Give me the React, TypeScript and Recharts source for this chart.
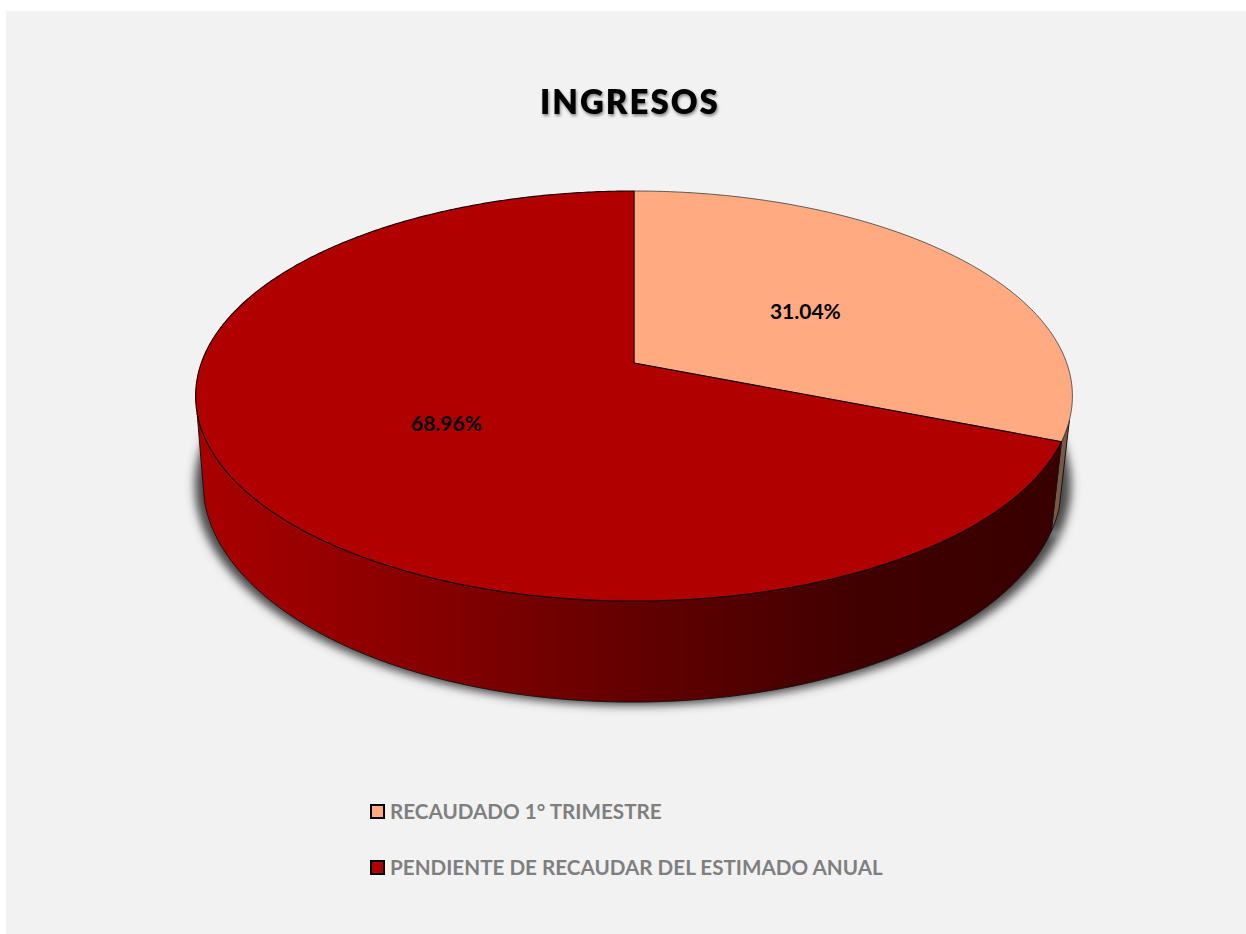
import React from 'react';
import { PieChart, Pie, Legend } from 'recharts';

const categories = ['RECAUDADO 1° TRIMESTRE', 'PENDIENTE DE RECAUDAR DEL ESTIMADO ANUAL'];
const values = [31.04, 68.96];
const topColors = ['#FFAA80', '#B00000'];
const wallColors = ['#7A5643', 'url(#wallRed)'];
const title = 'INGRESOS';

const chartData = categories.map((name, i) => ({ name, value: values[i], fill: topColors[i] }));

const APEX_X = 634;
const APEX_Y = 363;
const RADIUS = 432.7;
const PERSP = 0.161;
const TOP_GEOM = { x: APEX_X, y: APEX_Y, d: RADIUS, a: 199.7 };
const BOTTOM_GEOM = { x: 632.5, y: 447, d: 424, a: 214 };
const SHADOW_GEOM = { x: 633, y: 450, d: 432, a: 214 };
const WALL_FROM = 105.8;
const WALL_TO = 256;

type Geom = { x: number; y: number; d: number; a: number };

const project = (g: Geom, theta: number, f = 1): [number, number] => {
  const r = (theta * Math.PI) / 180;
  const u = Math.sin(r) * f;
  const v = Math.cos(r) * f;
  const w = 1 + PERSP * v;
  return [g.x + (g.d * u) / w, g.y - (g.a * v) / w];
};

const arcPoints = (g: Geom, from: number, to: number): string[] => {
  const n = Math.max(2, Math.ceil(Math.abs(to - from) * 2));
  const out: string[] = [];
  for (let i = 0; i <= n; i++) {
    const [x, y] = project(g, from + ((to - from) * i) / n);
    out.push(`${x.toFixed(2)} ${y.toFixed(2)}`);
  }
  return out;
};

const wedgePath = (g: Geom, from: number, to: number) =>
  `M${g.x} ${g.y} L${arcPoints(g, from, to).join(' L')} Z`;

const ShadowSector = (props: any) => {
  const from = 90 - props.startAngle;
  const to = 90 - props.endAngle;
  return <path d={wedgePath(SHADOW_GEOM, from, to)} fill="#4a4a4a" stroke="#4a4a4a" filter="url(#pieShadow)" />;
};

const TopSector = (props: any) => {
  const from = 90 - props.startAngle;
  const to = 90 - props.endAngle;
  const wf = Math.max(from, WALL_FROM);
  const wt = Math.min(to, WALL_TO);
  const wall =
    wt > wf
      ? `M${arcPoints(TOP_GEOM, wf, wt).join(' L')} L${arcPoints(BOTTOM_GEOM, wt, wf).join(' L')} Z`
      : null;
  const isPeach = props.index === 0;
  return (
    <g>
      {wall && <path d={wall} fill={wallColors[props.index]} stroke="#141414" strokeWidth={1} strokeLinejoin="round" />}
      <path d={wedgePath(TOP_GEOM, from, to)} fill={props.fill} stroke={isPeach ? '#3a3a3a' : '#140000'} strokeWidth={isPeach ? 0.8 : 1.1} strokeLinejoin="round" />
    </g>
  );
};

const renderLabel = (props: any) => {
  const [x, y] = project(TOP_GEOM, 90 - props.midAngle, 0.5);
  return (
    <text x={x} y={y + 1} textAnchor="middle" dominantBaseline="central"
      style={{ fontFamily: 'Lato', fontWeight: 700, fontSize: 21, fill: '#000' }}>
      {`${props.value.toFixed(2)}%`}
    </text>
  );
};

const renderLegend = () => (
  <div>
    {categories.map((name, i) => (
      <div key={name} style={{ display: 'flex', alignItems: 'center', height: 56, fontFamily: 'Lato', fontWeight: 700, fontSize: 20.65, color: '#7F7F7F', whiteSpace: 'nowrap' }}>
        <span style={{ display: 'inline-block', boxSizing: 'border-box', width: 15, height: 15, marginRight: 5, background: topColors[i], border: '2px solid #000' }} />
        <span>{name}</span>
      </div>
    ))}
  </div>
);

export default function App() {
  return (
    <div style={{ position: 'absolute', left: 0, top: 0, width: 1246, height: 934, background: '#fff', overflow: 'hidden' }}>
      <div style={{ position: 'absolute', left: 6, top: 11, right: 0, bottom: 0, background: '#F2F2F2' }} />
      <div style={{ position: 'absolute', left: 0, top: 0 }}>
        <PieChart width={1246} height={934} margin={{ top: 0, right: 0, bottom: 0, left: 0 }}>
          <defs>
            <filter id="pieShadow" x="-10%" y="-20%" width="120%" height="140%">
              <feGaussianBlur stdDeviation="5" />
            </filter>
            <filter id="titleShadow" x="-10%" y="-30%" width="120%" height="170%">
              <feDropShadow dx="1" dy="2" stdDeviation="1.5" floodColor="#000" floodOpacity="0.45" />
            </filter>
            <linearGradient id="wallRed" gradientUnits="userSpaceOnUse" x1="205" y1="0" x2="1052" y2="0">
              <stop offset="0" stopColor="#A80000" />
              <stop offset="0.25" stopColor="#880000" />
              <stop offset="0.5" stopColor="#640000" />
              <stop offset="0.78" stopColor="#400000" />
              <stop offset="1" stopColor="#380000" />
            </linearGradient>
          </defs>
          <text x={630} y={114} textAnchor="middle" filter="url(#titleShadow)"
            style={{ fontFamily: 'Lato', fontWeight: 800, fontSize: 33, letterSpacing: 2, fill: '#000' }}>
            {title}
          </text>
          <Pie data={chartData} dataKey="value" nameKey="name" cx={APEX_X} cy={APEX_Y} outerRadius={RADIUS}
            startAngle={90} endAngle={-270} legendType="none" isAnimationActive={false} shape={ShadowSector} label={false} />
          <Pie data={chartData} dataKey="value" nameKey="name" cx={APEX_X} cy={APEX_Y} outerRadius={RADIUS}
            startAngle={90} endAngle={-270} isAnimationActive={false} shape={TopSector} label={renderLabel} labelLine={false} />
          <Legend content={renderLegend} layout="vertical" wrapperStyle={{ left: 370, top: 783, width: 700 }} />
        </PieChart>
      </div>
    </div>
  );
}
